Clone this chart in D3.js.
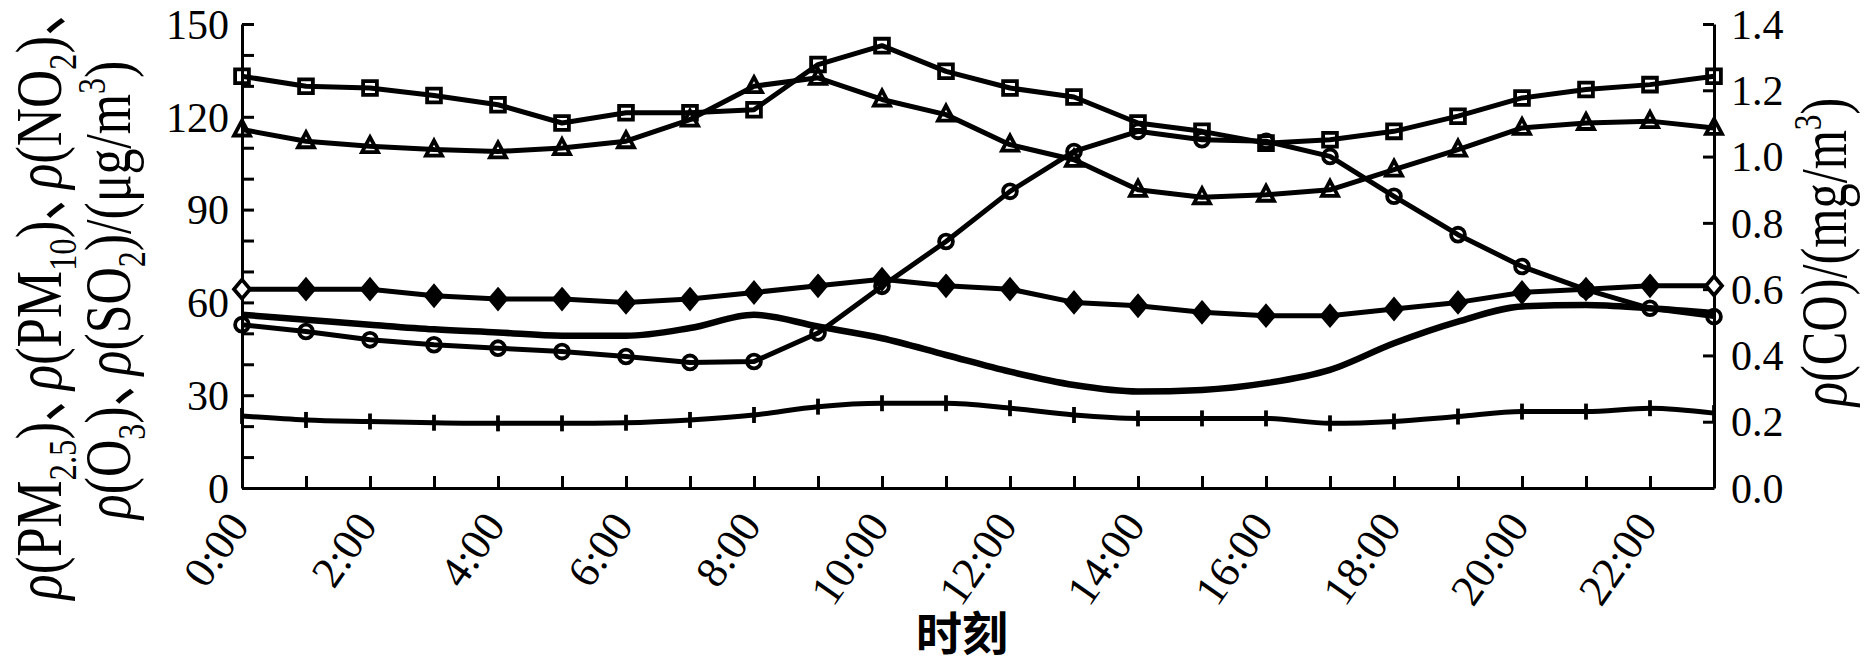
<!DOCTYPE html>
<html>
<head>
<meta charset="utf-8">
<script src="https://d3js.org/d3.v7.min.js"></script>
<style>
  body { margin: 0; background: #fff; }
  svg { display: block; font-family: 'Liberation Serif', 'Times New Roman', 'Noto Sans CJK SC', serif; }
</style>
</head>
<body>
<svg width="1866" height="663"></svg>
<script>
// hourly values
var hours = d3.range(0, 24);
var hourLabels = hours.map(function(h) { return h + ':00'; });

var pm10 = [133.1, 129.9, 129.3, 126.9, 123.9, 118.0, 121.3, 121.3, 122.3, 136.9, 143.0, 134.7,
            129.3, 126.4, 118.0, 115.3, 111.5, 112.6, 115.3, 120.2, 126.1, 128.8, 130.4, 133.1];
var pm25 = [115.9, 112.1, 110.5, 109.4, 108.8, 109.9, 112.1, 119.1, 129.9, 132.6, 125.6, 120.7,
            111.0, 106.1, 96.4, 94.0, 94.8, 96.4, 102.9, 109.4, 116.4, 118.0, 118.6, 116.4];
var o3 = [52.8, 50.6, 47.9, 46.3, 45.2, 44.1, 42.5, 40.6, 40.9, 50.1, 65.2, 79.7,
          95.9, 108.8, 115.3, 112.6, 112.1, 107.2, 94.3, 81.9, 71.6, 64.1, 58.1, 55.4];
var no2 = [56.0, 54.4, 52.8, 51.3, 50.3, 49.2, 49.2, 51.7, 56.0, 52.2, 48.4, 43.0,
           37.6, 33.3, 31.2, 31.7, 33.9, 38.2, 46.8, 53.8, 58.7, 59.2, 58.1, 56.5];
var so2 = [23.3, 22.0, 21.5, 21.1, 20.9, 20.9, 21.1, 22.0, 23.6, 26.3, 27.4, 27.4,
           25.8, 23.6, 22.5, 22.5, 22.5, 20.9, 21.5, 23.1, 24.7, 24.7, 25.8, 24.2];
// CO on the right axis, mg/m3
var co = [0.60, 0.60, 0.60, 0.58, 0.57, 0.57, 0.56, 0.57, 0.59, 0.61, 0.63, 0.61,
          0.60, 0.56, 0.55, 0.53, 0.52, 0.52, 0.54, 0.56, 0.59, 0.60, 0.61, 0.61];

var leftTicks = d3.range(0, 151, 10);
var rightTicks = [0, 0.2, 0.4, 0.6, 0.8, 1.0, 1.2, 1.4];

var svg = d3.select('svg');
var svgWidth = +svg.attr('width');
var svgHeight = +svg.attr('height');

var padding = {t: 24, r: 152, b: 175, l: 242};
var chartWidth = svgWidth - padding.l - padding.r;
var chartHeight = svgHeight - padding.t - padding.b;

var chartG = svg.append('g')
    .attr('transform', 'translate(' + [padding.l, padding.t] + ')');

var xScale = d3.scaleLinear().domain([0, 23]).range([0, chartWidth]);
var yScale = d3.scaleLinear().domain([0, 150]).range([chartHeight, 0]);
var coScale = d3.scaleLinear().domain([0, 1.4]).range([chartHeight, 0]);

function styleAxis(g) {
  g.attr('font-family', "'Liberation Serif', 'Times New Roman', serif")
    .attr('font-size', 42);
  g.selectAll('path, line').attr('stroke', '#000').attr('stroke-width', 3);
  g.selectAll('text').attr('fill', '#000');
}

// axes
var yAxis = d3.axisLeft(yScale)
    .tickValues(leftTicks)
    .tickSize(-12).tickSizeOuter(0).tickPadding(13)
    .tickFormat(function(d) { return d % 30 === 0 ? d : ''; });

var coAxis = d3.axisRight(coScale)
    .tickValues(rightTicks)
    .tickSize(-11).tickSizeOuter(0).tickPadding(17)
    .tickFormat(d3.format('.1f'));

var xAxis = d3.axisBottom(xScale)
    .tickValues(hours)
    .tickSize(-12).tickSizeOuter(0)
    .tickFormat(function(d) { return d % 2 === 0 ? hourLabels[d] : ''; });

chartG.append('g').attr('class', 'y-axis').call(yAxis).call(styleAxis)
    .selectAll('text').attr('dy', '0.34em');

chartG.append('g').attr('class', 'co-axis')
    .attr('transform', 'translate(' + chartWidth + ',0)')
    .call(coAxis).call(styleAxis)
    .selectAll('text').attr('dy', '0.34em');

chartG.append('g').attr('class', 'x-axis')
    .attr('transform', 'translate(0,' + chartHeight + ')')
    .call(xAxis).call(styleAxis)
    .selectAll('text')
    .attr('font-size', 44)
    .attr('x', 0).attr('y', 0).attr('dy', 0)
    .attr('text-anchor', 'end')
    .attr('transform', 'translate(8,38) rotate(-55)');

// lines
var series = [
  {name: 'PM10', values: pm10, scale: yScale, marker: 'square', width: 5},
  {name: 'PM2.5', values: pm25, scale: yScale, marker: 'triangle', width: 5},
  {name: 'O3', values: o3, scale: yScale, marker: 'circle', width: 5},
  {name: 'CO', values: co, scale: coScale, marker: 'diamond', width: 5},
  {name: 'NO2', values: no2, scale: yScale, marker: 'none', width: 6.5, smooth: true},
  {name: 'SO2', values: so2, scale: yScale, marker: 'plus', width: 5, smooth: true}
];

var diamondType = {
  draw: function(ctx) {
    ctx.moveTo(0, -9.5); ctx.lineTo(8, 0); ctx.lineTo(0, 9.5); ctx.lineTo(-8, 0); ctx.closePath();
  }
};
var plusType = {
  draw: function(ctx) { ctx.moveTo(0, -8); ctx.lineTo(0, 8); }
};
var triType = {
  draw: function(ctx) { ctx.moveTo(0, -9); ctx.lineTo(8, 6); ctx.lineTo(-8, 6); ctx.closePath(); }
};

var symbols = {
  square: d3.symbol().type(d3.symbolSquare).size(190),
  circle: d3.symbol().type(d3.symbolCircle).size(150),
  triangle: d3.symbol().type(triType),
  diamond: d3.symbol().type(diamondType),
  plus: d3.symbol().type(plusType)
};

series.forEach(function(s) {
  var line = d3.line()
      .x(function(d, i) { return xScale(i); })
      .y(function(d) { return s.scale(d); })
      .curve(s.smooth ? d3.curveMonotoneX : d3.curveLinear);

  chartG.append('path')
      .datum(s.values)
      .attr('class', 'line')
      .attr('d', line)
      .attr('fill', 'none')
      .attr('stroke', '#000')
      .attr('stroke-width', s.width)
      .attr('stroke-linejoin', 'round');

  if (s.marker === 'none') return;

  chartG.selectAll('.mk-' + s.marker)
      .data(s.values)
      .enter()
      .append('path')
      .attr('class', 'mk-' + s.marker)
      .attr('transform', function(d, i) {
        return 'translate(' + [xScale(i), s.scale(d)] + ')';
      })
      .attr('d', symbols[s.marker])
      .attr('fill', function(d, i) {
        if (s.marker !== 'diamond') return 'none';
        return (i === 0 || i === s.values.length - 1) ? '#fff' : '#000';
      })
      .attr('stroke', '#000')
      .attr('stroke-width', 3.8);
});

// axis titles with sub/superscripts
function richText(text, segs, size) {
  var shift = 0;
  segs.forEach(function(s) {
    var target = s[1] === 'sub' ? 0.22 * size : (s[1] === 'sup' ? -0.38 * size : 0);
    var small = s[1] === 'sub' || s[1] === 'sup';
    var ts = text.append('tspan')
        .attr('dy', target - shift)
        .style('font-size', (small ? size * 0.62 : size) + 'px')
        .style('font-style', s[1] === 'i' ? 'italic' : null)
        .text(s[0]);
    if (s[0] === '、') ts.style('letter-spacing', '-0.4em');
    shift = target;
  });
}

// x, y: baseline position and centre along the text; len: length on screen
function verticalTitle(x, y, len, segs) {
  var g = svg.append('g');
  var t = g.append('text')
      .attr('text-anchor', 'middle')
      .attr('fill', '#000')
      .style('font-size', '66px');
  richText(t, segs, 66);
  var w = t.node().getBBox().width;
  g.attr('transform', 'translate(' + [x, y] + ') rotate(-90) scale(' + (len / w) + ',1)');
}

verticalTitle(61, 302, 597, [
  ['ρ', 'i'], ['(PM'], ['2.5', 'sub'], [')'], ['、'],
  ['ρ', 'i'], ['(PM'], ['10', 'sub'], [')'], ['、'],
  ['ρ', 'i'], ['(NO'], ['2', 'sub'], [')'], ['、']
]);
verticalTitle(130, 290, 460, [
  ['ρ', 'i'], ['(O'], ['3', 'sub'], [')'], ['、'],
  ['ρ', 'i'], ['(SO'], ['2', 'sub'], [')/(μg/m'], ['3', 'sup'], [')']
]);
verticalTitle(1846, 252, 310, [
  ['ρ', 'i'], ['(CO)/(mg/m'], ['3', 'sup'], [')']
]);

svg.append('text')
    .attr('class', 'x-label')
    .attr('x', 962)
    .attr('y', 650)
    .attr('text-anchor', 'middle')
    .style('font-family', "'Noto Sans CJK SC', sans-serif")
    .style('font-size', '46px')
    .style('font-weight', 700)
    .style('fill', '#000')
    .text('时刻');
</script>
</body>
</html>
